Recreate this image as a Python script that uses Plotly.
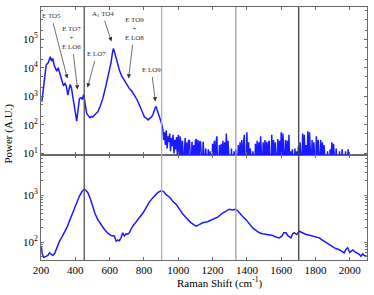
import math
import plotly.graph_objects as go

# ---------------- data ----------------
# Upper panel: Raman spectrum (main features)
top_x = [205, 215, 230, 242, 254, 262, 269, 277, 284, 292, 300, 308, 318, 325, 331, 340, 347, 352,
         356, 363, 370, 377, 385, 393, 401, 405, 408, 414, 420, 424, 433, 440, 449, 454, 459, 466,
         473, 485, 495, 502, 515, 531, 545, 560, 575, 589, 600, 609, 615, 622, 630, 638, 648, 657,
         670, 686, 700, 715, 730, 745, 760, 774, 790, 803, 815, 825, 832, 840, 851, 860, 866, 871,
         878, 884, 890, 898, 906]
top_y = [650, 2600, 12300, 15000, 24000, 17000, 21000, 12000, 9300, 7500, 10000, 7000, 4200, 3600,
         2350, 2800, 2350, 1600, 1100, 1700, 2600, 2000, 1100, 600, 290, 180, 135, 300, 700, 830,
         890, 780, 1150, 700, 370, 260, 220, 180, 200, 190, 230, 290, 450, 830, 1900, 4200, 9000,
         16000, 30000, 47000, 33000, 21000, 12000, 8100, 5200, 3600, 2700, 1860, 1500, 1100, 760,
         490, 300, 190, 170, 150, 166, 180, 220, 330, 400, 430, 330, 260, 190, 140, 98]

# Upper panel: noise floor region (sampled every 5 cm^-1 from 910 to 2000)
noise_x = list(range(910, 2001, 5))
noise_y = [70, 30, 55, 20, 65, 15, 40, 25, 50, 12, 35, 18, 45, 10, 30, 14, 38, 8,
           45, 2, 40, 26, 2, 28, 2, 22, 35, 2, 25, 2, 28, 30, 2, 2, 26, 2, 20, 2,
           28, 32, 2, 30, 2, 27, 25, 2, 2, 26, 2, 2, 15, 2, 2, 14, 2, 12, 2, 2,
           22, 2, 28, 2, 25, 40, 2, 2, 20, 2, 22, 2, 28, 2, 25, 2, 50, 2, 28, 2,
           2, 2, 15, 2, 2, 12, 2, 14, 2, 2, 20, 2, 25, 2, 30, 2, 22, 45, 2, 2,
           55, 2, 25, 2, 15, 2, 2, 12, 2, 2, 22, 2, 28, 2, 25, 2, 40, 2, 2, 25,
           2, 30, 2, 26, 2, 22, 28, 2, 2, 45, 2, 30, 2, 25, 2, 2, 32, 2, 28, 2,
           55, 2, 50, 2, 2, 30, 2, 28, 2, 45, 2, 12, 2, 14, 2, 2, 15, 2, 12, 2,
           18, 2, 25, 2, 2, 50, 2, 45, 2, 20, 2, 60, 2, 55, 2, 2, 30, 2, 25, 2,
           2, 40, 2, 30, 2, 2, 30, 2, 25, 2, 20, 2, 2, 2, 12, 2, 2, 14, 2, 25,
           2, 22, 2, 2, 15, 2, 2, 2, 12, 2, 2, 14, 2, 2, 2, 12, 2, 2, 14, 2,
           2]

# Lower panel spectrum
bot_x = [202, 208, 216, 230, 240, 250, 260, 269, 280, 288, 300, 308, 320, 337, 350, 366, 380, 395,
         410, 424, 440, 453, 463, 473, 488, 502, 515, 531, 550, 570, 590, 609, 628, 633, 638, 647,
         657, 667, 676, 686, 696, 705, 715, 725, 735, 755, 774, 795, 813, 830, 851, 865, 880, 900,
         915, 929, 950, 968, 990, 1007, 1025, 1046, 1060, 1075, 1090, 1104, 1120, 1142, 1170, 1200,
         1230, 1259, 1280, 1298, 1315, 1333, 1345, 1356, 1375, 1395, 1415, 1434, 1455, 1473, 1490,
         1512, 1530, 1550, 1570, 1589, 1605, 1615, 1628, 1640, 1657, 1667, 1676, 1690, 1705, 1720,
         1745, 1765, 1783, 1800, 1822, 1840, 1861, 1880, 1899, 1915, 1938, 1950, 1967, 1977, 1987,
         2000, 2016, 2030, 2045, 2055, 2064, 2075, 2084, 2098]
bot_y = [78, 55, 47, 50, 52, 59, 54, 52, 58, 69, 90, 105, 125, 158, 200, 280, 380, 540, 720, 950,
         1200, 1320, 1250, 1120, 820, 540, 400, 300, 230, 186, 155, 138, 135, 120, 105, 110, 107,
         125, 158, 135, 150, 148, 158, 190, 219, 270, 330, 420, 540, 700, 870, 1000, 1120, 1230,
         1180, 1020, 900, 740, 620, 500, 400, 330, 290, 257, 235, 219, 232, 257, 270, 300, 340, 415,
         460, 500, 480, 500, 470, 415, 350, 300, 240, 200, 175, 158, 150, 145, 140, 138, 128, 123,
         135, 158, 158, 135, 123, 150, 158, 145, 170, 160, 145, 140, 135, 130, 123, 110, 98, 88, 78,
         74, 69, 65, 59, 70, 76, 60, 68, 62, 59, 55, 50, 56, 52, 50]

# Vertical reference lines (cm^-1)
line_positions = [452, 903, 1336, 1702]
line_colors = ["#505050", "#b0b0b0", "#a0a0a0", "#404040"]

# Peak labels
labels = ["E TO5", "E TO7<br>+<br>E LO6", "E LO7", "A<sub>1</sub> TO4", "E TO9<br>+<br>E LO8", "E LO9"]
label_x = [354, 413, 471, 611, 710, 867]
label_y = [4200, 1740, 2040, 83000, 4200, 660]
label_ax = [-16, -6, 9, -9, 6, -4]
label_ay = [-62, -51, -33, -27, -49, -31]

top_ticks = [10, 100, 1000, 10000, 100000]
top_ticktext = ["10<sup>1</sup>", "10<sup>2</sup>", "10<sup>3</sup>", "10<sup>4</sup>", "10<sup>5</sup>"]
bot_ticks = [100, 1000]
bot_ticktext = ["10<sup>2</sup>", "10<sup>3</sup>"]
x_ticks = [200, 400, 600, 800, 1000, 1200, 1400, 1600, 1800, 2000]

# ---------------- figure ----------------
FONT = "Liberation Serif"
BLUE = "#1a1aff"
AX = "#6a6a6a"

fig = go.Figure()
fig.add_trace(go.Scatter(x=top_x + noise_x, y=top_y + noise_y, mode="lines",
                         line=dict(color=BLUE, width=1.5), xaxis="x2", yaxis="y2",
                         showlegend=False, hoverinfo="skip"))
fig.add_trace(go.Scatter(x=bot_x, y=bot_y, mode="lines",
                         line=dict(color=BLUE, width=1.5), xaxis="x", yaxis="y",
                         showlegend=False, hoverinfo="skip"))

for xp, c in zip(line_positions, line_colors):
    fig.add_shape(type="line", xref="x", yref="paper", x0=xp, x1=xp, y0=0, y1=1,
                  line=dict(color=c, width=1.3), layer="above")

for t, x, y, ax, ay in zip(labels, label_x, label_y, label_ax, label_ay):
    fig.add_annotation(x=x, y=math.log10(y), xref="x2", yref="y2", text=t, showarrow=True,
                       ax=ax, ay=ay, arrowhead=2, arrowsize=1.2, arrowwidth=0.7,
                       arrowcolor="#333333", standoff=0, startstandoff=1,
                       font=dict(family=FONT, size=7, color="#333333"))

fig.add_annotation(x=-0.101, y=0.5, xref="paper", yref="paper", text="Power (A.U.)",
                   showarrow=False, textangle=-90, xanchor="center", yanchor="middle",
                   font=dict(family=FONT, size=11, color="black"))
fig.add_annotation(x=0.55, y=-0.09, xref="paper", yref="paper",
                   text="Raman Shift (cm<sup>-1</sup>)", showarrow=False,
                   xanchor="center", yanchor="middle",
                   font=dict(family=FONT, size=11, color="black"))

common_x = dict(range=[200, 2100], showgrid=False, zeroline=False, showline=True,
                linecolor=AX, linewidth=1, mirror="ticks", ticks="inside", ticklen=3,
                tickcolor=AX, tickvals=x_ticks, automargin=False)

fig.update_layout(
    template="none",
    width=374, height=295,
    margin=dict(l=41, r=7, t=7, b=35, autoexpand=False),
    paper_bgcolor="white", plot_bgcolor="white",
    font=dict(family=FONT, size=11, color="black"),
    xaxis=dict(**common_x, anchor="y", domain=[0, 1],
               tickfont=dict(family=FONT, size=11)),
    xaxis2=dict(**common_x, anchor="y2", matches="x", showticklabels=False),
    yaxis=dict(type="log", range=[1.62, 3.85], domain=[0, 0.415], anchor="x",
               showgrid=False, zeroline=False, showline=True, linecolor=AX, mirror="ticks",
               ticks="inside", ticklen=3, tickcolor=AX, tickvals=bot_ticks, automargin=False,
               ticktext=bot_ticktext, tickfont=dict(family=FONT, size=11),
               minor=dict(ticks="inside", ticklen=2, tickcolor=AX,
                          tickvals=[50, 60, 70, 80, 90, 200, 300, 400, 500, 600, 700, 800, 900,
                                    2000, 3000, 4000, 5000, 6000, 7000])),
    yaxis2=dict(type="log", range=[0.95, 6.12], domain=[0.415, 1], anchor="x2",
                showgrid=False, zeroline=False, showline=True, linecolor=AX, mirror="ticks",
                ticks="inside", ticklen=3, tickcolor=AX, tickvals=top_ticks, automargin=False,
                ticktext=top_ticktext, tickfont=dict(family=FONT, size=11),
                minor=dict(ticks="inside", ticklen=2, tickcolor=AX,
                           tickvals=[20, 50, 200, 500, 2000, 5000, 20000, 50000,
                                     200000, 500000, 1000000])),
)

fig.write_html("out.html", config={"displayModeBar": False},
               post_script="document.body.style.margin='0';document.body.style.padding='0';")
